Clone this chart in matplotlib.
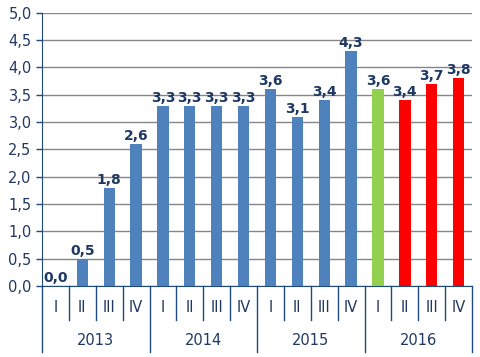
import matplotlib.pyplot as plt
from matplotlib.lines import Line2D

years = ['2013', '2014', '2015', '2016']
quarters = ['I', 'II', 'III', 'IV']
values = [0.0, 0.5, 1.8, 2.6,
          3.3, 3.3, 3.3, 3.3,
          3.6, 3.1, 3.4, 4.3,
          3.6, 3.4, 3.7, 3.8]
bar_colors = ['#4F81BD'] * 12 + ['#92D050', '#FF0000', '#FF0000', '#FF0000']

axis_col = '#1F497D'
text_col = '#1F3864'

fig = plt.figure(figsize=(4.8, 3.57), dpi=100)
ax = fig.add_axes([0.0875, 0.199, 0.896, 0.765])

x = list(range(len(values)))
ax.bar(x, values, width=0.42, color=bar_colors, zorder=3)
for xi, v in zip(x, values):
    ax.text(xi, v + 0.02, f'{v:.1f}'.replace('.', ','), ha='center', va='bottom',
            fontsize=10, fontweight='bold', color=text_col, zorder=4)

ax.set_xlim(-0.5, len(values) - 0.5)
ax.set_ylim(0, 5)
ax.set_yticks([i * 0.5 for i in range(11)])
ax.set_yticklabels([f'{i * 0.5:.1f}'.replace('.', ',') for i in range(11)])
ax.yaxis.grid(True, color='#868686', linewidth=1, zorder=0)
ax.tick_params(axis='y', colors=axis_col, labelcolor=text_col, labelsize=10.5, length=4, width=1)
ax.set_xticks([])
for s in ['top', 'right']:
    ax.spines[s].set_visible(False)
ax.spines['left'].set_color(axis_col)
ax.spines['bottom'].set_color(axis_col)

# category axis drawn below the plot
trans = ax.get_xaxis_transform()
q_drop = -0.125
y_drop = -0.242
for i in range(len(values) + 1):
    b = i - 0.5
    low = y_drop if i % 4 == 0 else q_drop
    ax.add_line(Line2D([b, b], [0, low], transform=trans, color=axis_col,
                       linewidth=1, clip_on=False))
for i in range(len(values)):
    ax.text(i, -0.08, quarters[i % 4], transform=trans, ha='center', va='center',
            fontsize=10.5, color=text_col)
for k, yr in enumerate(years):
    ax.text(4 * k + 1.5, -0.198, yr, transform=trans, ha='center', va='center',
            fontsize=10.5, color=text_col)

fig.savefig('out.png', dpi=100)
